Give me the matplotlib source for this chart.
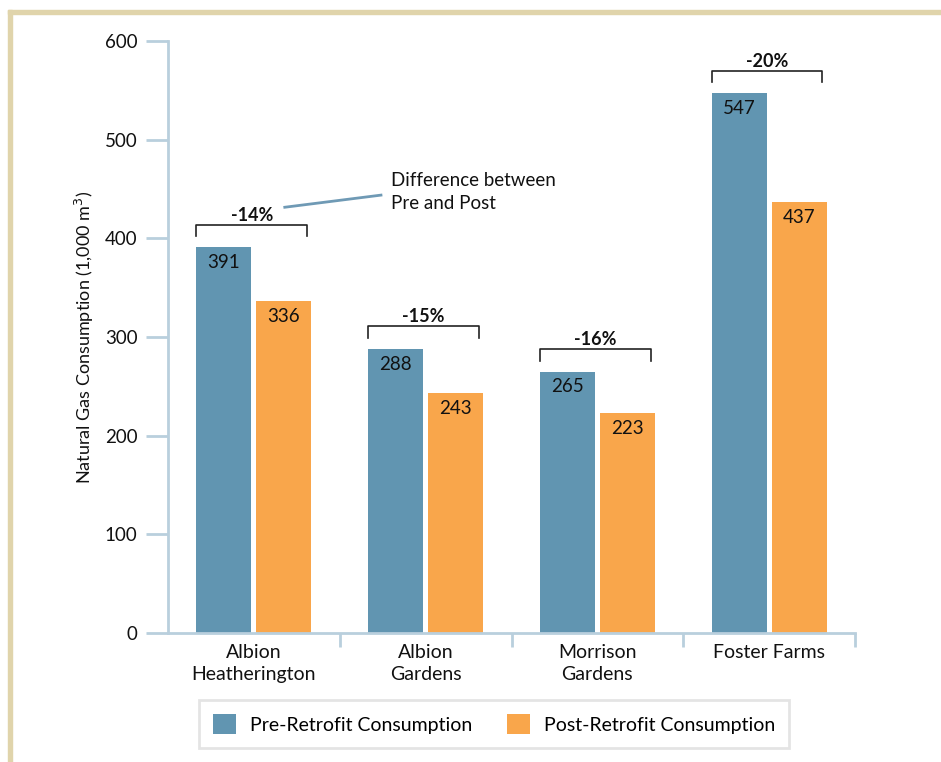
import matplotlib
matplotlib.use("Agg")
import matplotlib.pyplot as plt
from matplotlib.patches import Rectangle, Patch
import numpy as np

categories = ["Albion\nHeatherington", "Albion\nGardens", "Morrison\nGardens", "Foster Farms"]
pre_values = [391, 288, 265, 547]
post_values = [336, 243, 223, 437]
pct_labels = ["-14%", "-15%", "-16%", "-20%"]
series_names = ["Pre-Retrofit Consumption", "Post-Retrofit Consumption"]
yticks = [0, 100, 200, 300, 400, 500, 600]

plt.rcParams['font.family'] = ['Lato', 'DejaVu Sans']

PRE_C = "#6195b1"
POST_C = "#f9a64b"
AXIS_C = "#b9cfdd"
FRAME_C = "#e0d4ab"

fig = plt.figure(figsize=(9.41, 7.62), dpi=100)
fig.patches.append(Rectangle((8/941, 0), 4/941, 1 - 10/762, transform=fig.transFigure,
                             color=FRAME_C, zorder=0))
fig.patches.append(Rectangle((8/941, 1 - 14/762), 1, 4/762, transform=fig.transFigure,
                             color=FRAME_C, zorder=0))

ax = fig.add_axes([168/941, 1 - 633/762, 687/941, 592/762])
x = np.arange(len(categories))
w = 0.32
off = 0.175
ax.bar(x - off, pre_values, w, color=PRE_C, label=series_names[0], zorder=2)
ax.bar(x + off, post_values, w, color=POST_C, label=series_names[1], zorder=2)

for i in range(len(categories)):
    ax.text(x[i] - off, pre_values[i] - 7, str(pre_values[i]), ha='center', va='top',
            fontsize=13.5, color='#111111', zorder=3)
    ax.text(x[i] + off, post_values[i] - 7, str(post_values[i]), ha='center', va='top',
            fontsize=13.5, color='#111111', zorder=3)
    top = max(pre_values[i], post_values[i]) + 23
    x0, x1 = x[i] - off - w/2, x[i] + off + w/2 - 0.025
    ax.plot([x0, x0, x1, x1], [top - 12, top, top, top - 12], color='#222222', lw=1.2,
            clip_on=False, zorder=3)
    ax.text((x0 + x1)/2, top + 1, pct_labels[i], ha='center', va='bottom', fontsize=13,
            fontweight='bold', color='#111111', clip_on=False)

ax.plot([0.18, 0.74], [431.5, 443.8], color='#6f9ab5', lw=2, zorder=3)
ax.text(0.80, 447, "Difference between\nPre and Post", ha='left', va='center',
        fontsize=13.5, color='#111111', linespacing=1.4)

ax.set_xlim(-0.5, 3.5)
ax.set_ylim(0, 600)
ax.set_yticks(yticks)
ax.tick_params(axis='y', direction='out', length=16, width=2, color=AXIS_C,
               labelsize=13.5, pad=6, labelcolor='#111111')
ax.set_xticks(x)
ax.set_xticklabels(categories, fontsize=14, color='#111111', linespacing=1.35)
ax.tick_params(axis='x', length=0, pad=8)
ax.set_xticks([0.5, 1.5, 2.5, 3.5], minor=True)
ax.tick_params(axis='x', which='minor', direction='out', length=10, width=2, color=AXIS_C)

for s in ['top', 'right']:
    ax.spines[s].set_visible(False)
for s in ['left', 'bottom']:
    ax.spines[s].set_color(AXIS_C)
    ax.spines[s].set_linewidth(2)

ax.set_ylabel("Natural Gas Consumption (1,000 m$^3$)", fontsize=13, color='#111111', labelpad=6)

handles = [Patch(facecolor=PRE_C, label=series_names[0]), Patch(facecolor=POST_C, label=series_names[1])]
leg = fig.legend(handles=handles, loc='center', bbox_to_anchor=(494/941, 1 - 724/762), ncol=2,
                 frameon=True, fancybox=False, fontsize=14, handlelength=1.2, handleheight=1.2,
                 columnspacing=1.8, handletextpad=0.7, borderpad=0.7)
leg.get_frame().set_edgecolor('#dedede')
leg.get_frame().set_linewidth(2)

fig.savefig("out.png", dpi=100)
